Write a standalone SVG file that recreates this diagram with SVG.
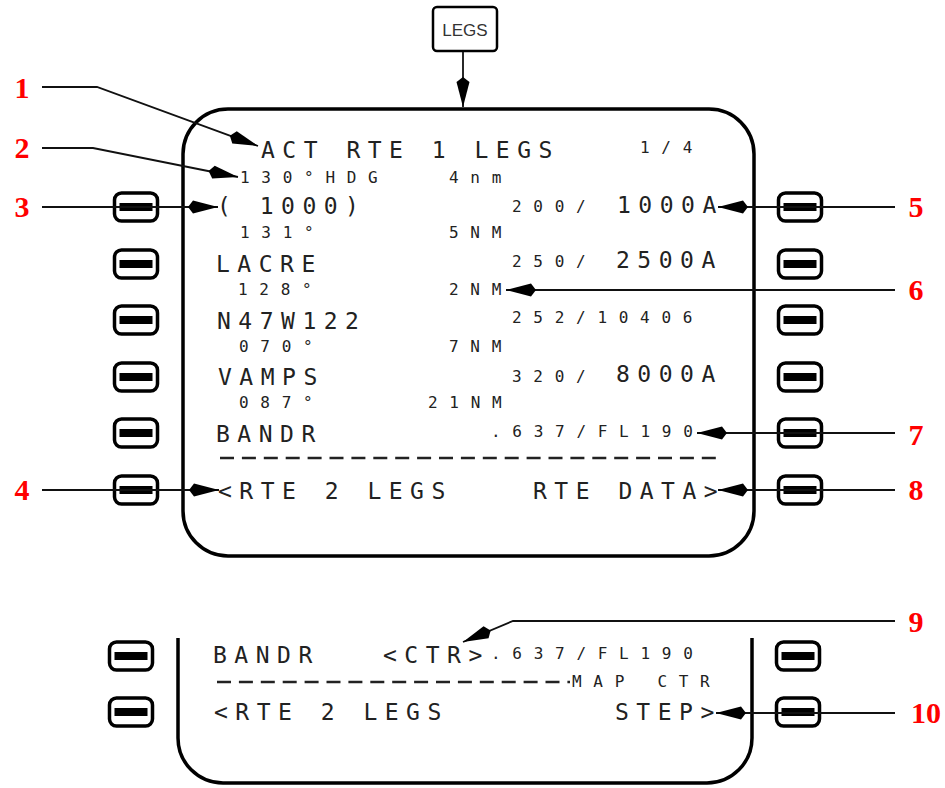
<svg xmlns="http://www.w3.org/2000/svg" width="945" height="788" viewBox="0 0 945 788">
<defs>
<style>
.scr{fill:none;stroke:#000;stroke-width:3.5}
.lg{font-family:"DejaVu Sans Mono","Liberation Mono",monospace;font-size:23px;letter-spacing:7.5px;fill:#222}
.sm{font-family:"DejaVu Sans Mono","Liberation Mono",monospace;font-size:16px;letter-spacing:11.72px;fill:#222}
.num{font-family:"Liberation Serif","DejaVu Serif",serif;font-weight:bold;font-size:30px;fill:#ff0000;text-anchor:middle}
.ld{fill:none;stroke:#111;stroke-width:1.8;marker-end:url(#ah)}
.dash{stroke:#222;stroke-width:2.5;stroke-dasharray:14 7.9}
</style>
<marker id="ah" markerUnits="userSpaceOnUse" markerWidth="30" markerHeight="14" refX="30" refY="7" orient="auto" viewBox="0 0 30 14">
<path d="M30,7 L5,0.5 L0,7 L5,13.5 Z" fill="#000"/>
</marker>
<g id="b">
<rect x="-21.5" y="-14" width="43" height="28" rx="7" fill="#fff" stroke="#000" stroke-width="3.5"/>
<rect x="-16.5" y="-4" width="33" height="8" fill="#000"/>
</g>
</defs>
<rect width="945" height="788" fill="#fff"/>

<g id="legs-key">
<rect x="433" y="7" width="64" height="44" rx="4" fill="#fff" stroke="#000" stroke-width="2.5"/>
<text x="465" y="36" font-family="Liberation Sans, Arial, sans-serif" font-size="17" text-anchor="middle" fill="#333">LEGS</text>
</g>

<g id="main-screen">
<rect class="scr" x="183" y="109" width="571" height="447" rx="45"/>
<text class="lg" x="261" y="158">ACT RTE 1 LEGS</text>
<text class="sm" x="640" y="153">1/4</text>
<text class="sm" x="240" y="183">130°HDG</text>
<text class="sm" x="449" y="183">4nm</text>
<text class="lg" x="217" y="214">( 1000)</text>
<text class="sm" x="512" y="212">200/</text>
<text class="lg" x="617" y="213">1000A</text>
<text class="sm" x="240" y="238">131°</text>
<text class="sm" x="449" y="238">5NM</text>
<text class="lg" x="216" y="272">LACRE</text>
<text class="sm" x="512" y="267">250/</text>
<text class="lg" x="616" y="268">2500A</text>
<text class="sm" x="238" y="295">128°</text>
<text class="sm" x="449" y="295">2NM</text>
<text class="lg" x="217" y="329">N47W122</text>
<text class="sm" x="512" y="323">252/10406</text>
<text class="sm" x="239" y="352">070°</text>
<text class="sm" x="449" y="352">7NM</text>
<text class="lg" x="218" y="385">VAMPS</text>
<text class="sm" x="512" y="382">320/</text>
<text class="lg" x="616" y="382">8000A</text>
<text class="sm" x="239" y="408">087°</text>
<text class="sm" x="428" y="408">21NM</text>
<text class="lg" x="216" y="442">BANDR</text>
<text class="sm" x="491" y="437">.637/FL190</text>
<line class="dash" x1="220" y1="458" x2="717" y2="458"/>
<text class="lg" x="218" y="499">&lt;RTE 2 LEGS</text>
<text class="lg" x="533" y="499">RTE DATA&gt;</text>
</g>

<g id="main-keys">
<use href="#b" x="136" y="207"/>
<use href="#b" x="136" y="264"/>
<use href="#b" x="136" y="320"/>
<use href="#b" x="136" y="377"/>
<use href="#b" x="136" y="433"/>
<use href="#b" x="136" y="490"/>
<use href="#b" x="800" y="207"/>
<use href="#b" x="800" y="264"/>
<use href="#b" x="800" y="320"/>
<use href="#b" x="800" y="377"/>
<use href="#b" x="800" y="433"/>
<use href="#b" x="800" y="490"/>
</g>

<g id="step-screen">
<path class="scr" d="M178,638 V738 A45,45 0 0 0 223,783 H707 A45,45 0 0 0 752,738 V638"/>
<text class="lg" x="213" y="663">BANDR</text>
<text class="lg" x="383" y="663">&lt;CTR&gt;</text>
<text class="sm" x="491" y="659">.637/FL190</text>
<line class="dash" x1="217" y1="682" x2="570" y2="682"/>
<text class="sm" x="572" y="687">MAP CTR</text>
<text class="lg" x="214" y="720">&lt;RTE 2 LEGS</text>
<text class="lg" x="615" y="720">STEP&gt;</text>
</g>

<g id="step-keys">
<use href="#b" x="131" y="656"/>
<use href="#b" x="131" y="712"/>
<use href="#b" x="798" y="656"/>
<use href="#b" x="798" y="712"/>
</g>

<g id="connectors">
<polyline class="ld" points="463,52 463,107"/>
<polyline class="ld" points="42,87 97,87 258,146"/>
<polyline class="ld" points="42,148 93,148 238,177"/>
<polyline class="ld" points="42,207 218,207"/>
<polyline class="ld" points="42,490 219,490"/>
<polyline class="ld" points="895,207 718,207"/>
<polyline class="ld" points="895,290 506,290"/>
<polyline class="ld" points="895,433 697,433"/>
<polyline class="ld" points="895,490 718,490"/>
<polyline class="ld" points="895,621 513,621 463,642"/>
<polyline class="ld" points="895,713 716,713"/>
</g>

<g id="labels">
<text class="num" x="22" y="98">1</text>
<text class="num" x="22" y="158">2</text>
<text class="num" x="22" y="217">3</text>
<text class="num" x="22" y="500">4</text>
<text class="num" x="916" y="217">5</text>
<text class="num" x="916" y="300">6</text>
<text class="num" x="916" y="445">7</text>
<text class="num" x="916" y="500">8</text>
<text class="num" x="916" y="632">9</text>
<text class="num" x="926" y="723">10</text>
</g>
</svg>
